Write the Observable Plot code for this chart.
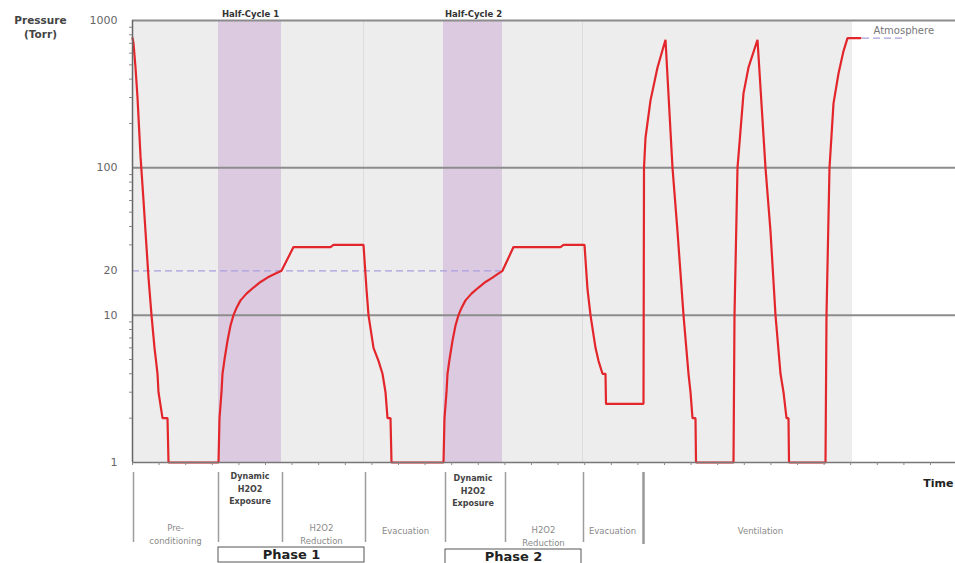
<!DOCTYPE html>
<html><head><meta charset="utf-8">
<script src="https://cdn.jsdelivr.net/npm/d3@7"></script>
<script src="https://cdn.jsdelivr.net/npm/@observablehq/plot@0.6"></script>
<style>body{margin:0;background:#fff} #chart svg{display:block}</style>
</head><body><div id="chart"></div>
<script>
// ---- data (time in arbitrary units, pressure in Torr) ----
const pressureTime = [0,1,3,5,8,11,13,16,19,22,24,25,26,30,35,36,86,87,89,90,92,95,98,101,104,108,114,121,128,135,142,149,161,198,201,231,234,236,241,246,250,253,255,258,259,311,312,314,315,317,320,323,326,329,333,339,346,353,360,365,370,381,428,431,452,455,458,463,466,470,473,473.5,511,511.5,513,518,525,533,540,545,551,556,558,560,563,563.5,601,602,605,611,616,625,633,638,643,648,651,654,656,656.5,693,694,697,701,706,711,715,728];
const pressureTorr = [760,700,480,300,120,60,37,18,10,6,4.6,4,3,2,2,1,1,2,3,4,5,6.7,8.5,10,11.2,12.6,14,15.4,16.8,18,19,20,29,29,30,30,15,10,6,4.9,4,3,2,2,1,1,2,3,4,5,6.7,8.5,10,11.2,12.6,14,15.4,16.8,18,19,20,29,29,30,30,15,10,6,4.9,4,4,2.5,2.5,100,160,287,480,740,100,37,10,4,3,2,2,1,1,10,100,320,480,740,100,37,10,4,3,2,2,1,1,10,100,274,437,620,760,760];
const processSpan = [0, 720];
const exposureStart = [86, 311];
const exposureEnd = [149, 370];
const sectionLines = [231, 450];
const majorTicks = [1, 10, 20, 100, 1000];
const minorTicks = [2,3,4,5,6,7,8,9,30,40,50,60,70,80,90,200,300,400,500,600,700,800,900];
const timeTicks = d3.range(0, 823, 26.6);
const targetPressure = 20, targetEnd = 368;
const atmosphere = 760, atmoStart = 730, atmoEnd = 772;
const halfCycleLabels = ["Half-Cycle 1", "Half-Cycle 2"];
const halfCycleTime = [118, 341];
const stageBoundaries = [1, 86, 150, 233, 313, 373, 451];
const ventBoundary = [511];
const exposureLabel = "Dynamic\nH2O2\nExposure";
const stageLabels = ["Pre-\nconditioning", "H2O2\nReduction", "Evacuation", "H2O2\nReduction", "Evacuation", "Ventilation"];
const stageLabelTime = [43, 189, 273, 411, 480, 628];
const stageLabelRow = [63, 63, 60, 65, 60, 60];
const phaseLabels = ["Phase 1", "Phase 2"];
const phaseStart = [86, 313];
const phaseEnd = [232, 449];

const pressure = pressureTime.map((t, i) => ({t, p: pressureTorr[i]}));
const bands = exposureStart.map((s, i) => ({x1: s, x2: exposureEnd[i]}));
const halfCycles = halfCycleLabels.map((label, i) => ({label, t: halfCycleTime[i]}));
const stages = stageLabels.map((label, i) => ({label, t: stageLabelTime[i], r: stageLabelRow[i]}));
const phases = phaseLabels.map((label, i) => ({label, x1: phaseStart[i], x2: phaseEnd[i], t: (phaseStart[i] + phaseEnd[i]) / 2}));

const font = "DejaVu Sans, Verdana, sans-serif";

const main = Plot.plot({
  width: 955, height: 470,
  marginLeft: 132, marginRight: 0, marginTop: 20, marginBottom: 8,
  x: {domain: [0, 823], label: null},
  y: {type: "log", domain: [1, 1000], label: null},
  style: {fontFamily: font, background: "white"},
  marks: [
    Plot.rect([processSpan], {x1: d => d[0], x2: d => d[1], y1: 1, y2: 1000, fill: "#ededed"}),
    Plot.rect(bands, {x1: "x1", x2: "x2", y1: 1, y2: 1000, fill: "#dccbe0"}),
    Plot.ruleX(sectionLines, {y1: 1, y2: 1000, stroke: "#dcdcdc", strokeWidth: 1}),
    Plot.ruleY([1000, 100, 10], {stroke: "#8c8c8c", strokeWidth: 2}),
    Plot.ruleY([targetPressure], {x1: 0, x2: targetEnd, stroke: "#a99fde", strokeWidth: 1.2, strokeDasharray: "7,4"}),
    Plot.ruleY([atmosphere], {x1: atmoStart, x2: atmoEnd, stroke: "#a99fde", strokeWidth: 1.2, strokeDasharray: "7,4"}),
    Plot.line(pressure, {x: "t", y: "p", stroke: "#e3262b", strokeWidth: 2.2, strokeLinejoin: "miter"}),
    Plot.ruleX([0], {y1: 1, y2: 1000, stroke: "#666", strokeWidth: 1.5}),
    Plot.ruleY([1], {stroke: "#777", strokeWidth: 1.5}),
    Plot.axisY(minorTicks, {tickSize: 3, stroke: "#888", tickFormat: () => "", label: null}),
    Plot.axisY(majorTicks, {tickSize: 0, tickPadding: 15, fontSize: 11, fill: "#666", tickFormat: d => String(d), label: null}),
    Plot.axisX(timeTicks, {tickSize: 3, stroke: "#888", tickFormat: () => "", label: null}),
    Plot.text(["Pressure"], {text: d => d, frameAnchor: "top-left", textAnchor: "middle", lineAnchor: "middle", dx: -92, dy: 0, fontWeight: "bold", fontSize: 10.5, fill: "#444"}),
    Plot.text(["(Torr)"], {text: d => d, frameAnchor: "top-left", textAnchor: "middle", lineAnchor: "middle", dx: -92, dy: 14, fontWeight: "bold", fontSize: 10.5, fill: "#444"}),
    Plot.text(halfCycles, {x: "t", text: "label", frameAnchor: "top", lineAnchor: "middle", dy: -6.5, fontWeight: "bold", fontSize: 8.5, fill: "#333"}),
    Plot.text([{t: atmoStart + 11, p: atmosphere}], {x: "t", y: "p", text: () => "Atmosphere", dy: -7, textAnchor: "start", fontSize: 10, fill: "#777"})
  ]
});

const bottom = Plot.plot({
  width: 955, height: 93,
  marginLeft: 132, marginRight: 0, marginTop: 0, marginBottom: 0,
  x: {domain: [0, 823], axis: null},
  y: {domain: [93, 0], axis: null},
  style: {fontFamily: font, background: "white"},
  marks: [
    Plot.ruleX(stageBoundaries, {y1: 2, y2: 72, stroke: "#9c9c9c", strokeWidth: 1.5}),
    Plot.ruleX(ventBoundary, {y1: 2, y2: 74, stroke: "#999", strokeWidth: 2.5}),
    Plot.text(exposureStart.map((s, i) => ({t: (s + exposureEnd[i]) / 2, r: 17 + i * 2})), {x: "t", y: "r", text: () => exposureLabel, fontSize: 8, fontWeight: "bold", fill: "#444", lineHeight: 1.6}),
    Plot.text(stages, {x: "t", y: "r", text: "label", fontSize: 8.5, fill: "#8a8a8a", lineHeight: 1.45}),
    Plot.rect(phases, {x1: "x1", x2: "x2", y1: (d, i) => 77 + i * 2, y2: (d, i) => 92 + i * 4, fill: "none", stroke: "#555", strokeWidth: 1}),
    Plot.text(phases, {x: "t", y: (d, i) => 84.5 + i * 1.5, text: "label", fontSize: 13, fontWeight: "bold", fill: "#222"}),
    Plot.text(["Time"], {text: d => d, x: () => 821, y: () => 13, textAnchor: "end", fontSize: 11, fontWeight: "bold", fill: "#222"})
  ]
});

document.getElementById("chart").append(main, bottom);
</script></body></html>
